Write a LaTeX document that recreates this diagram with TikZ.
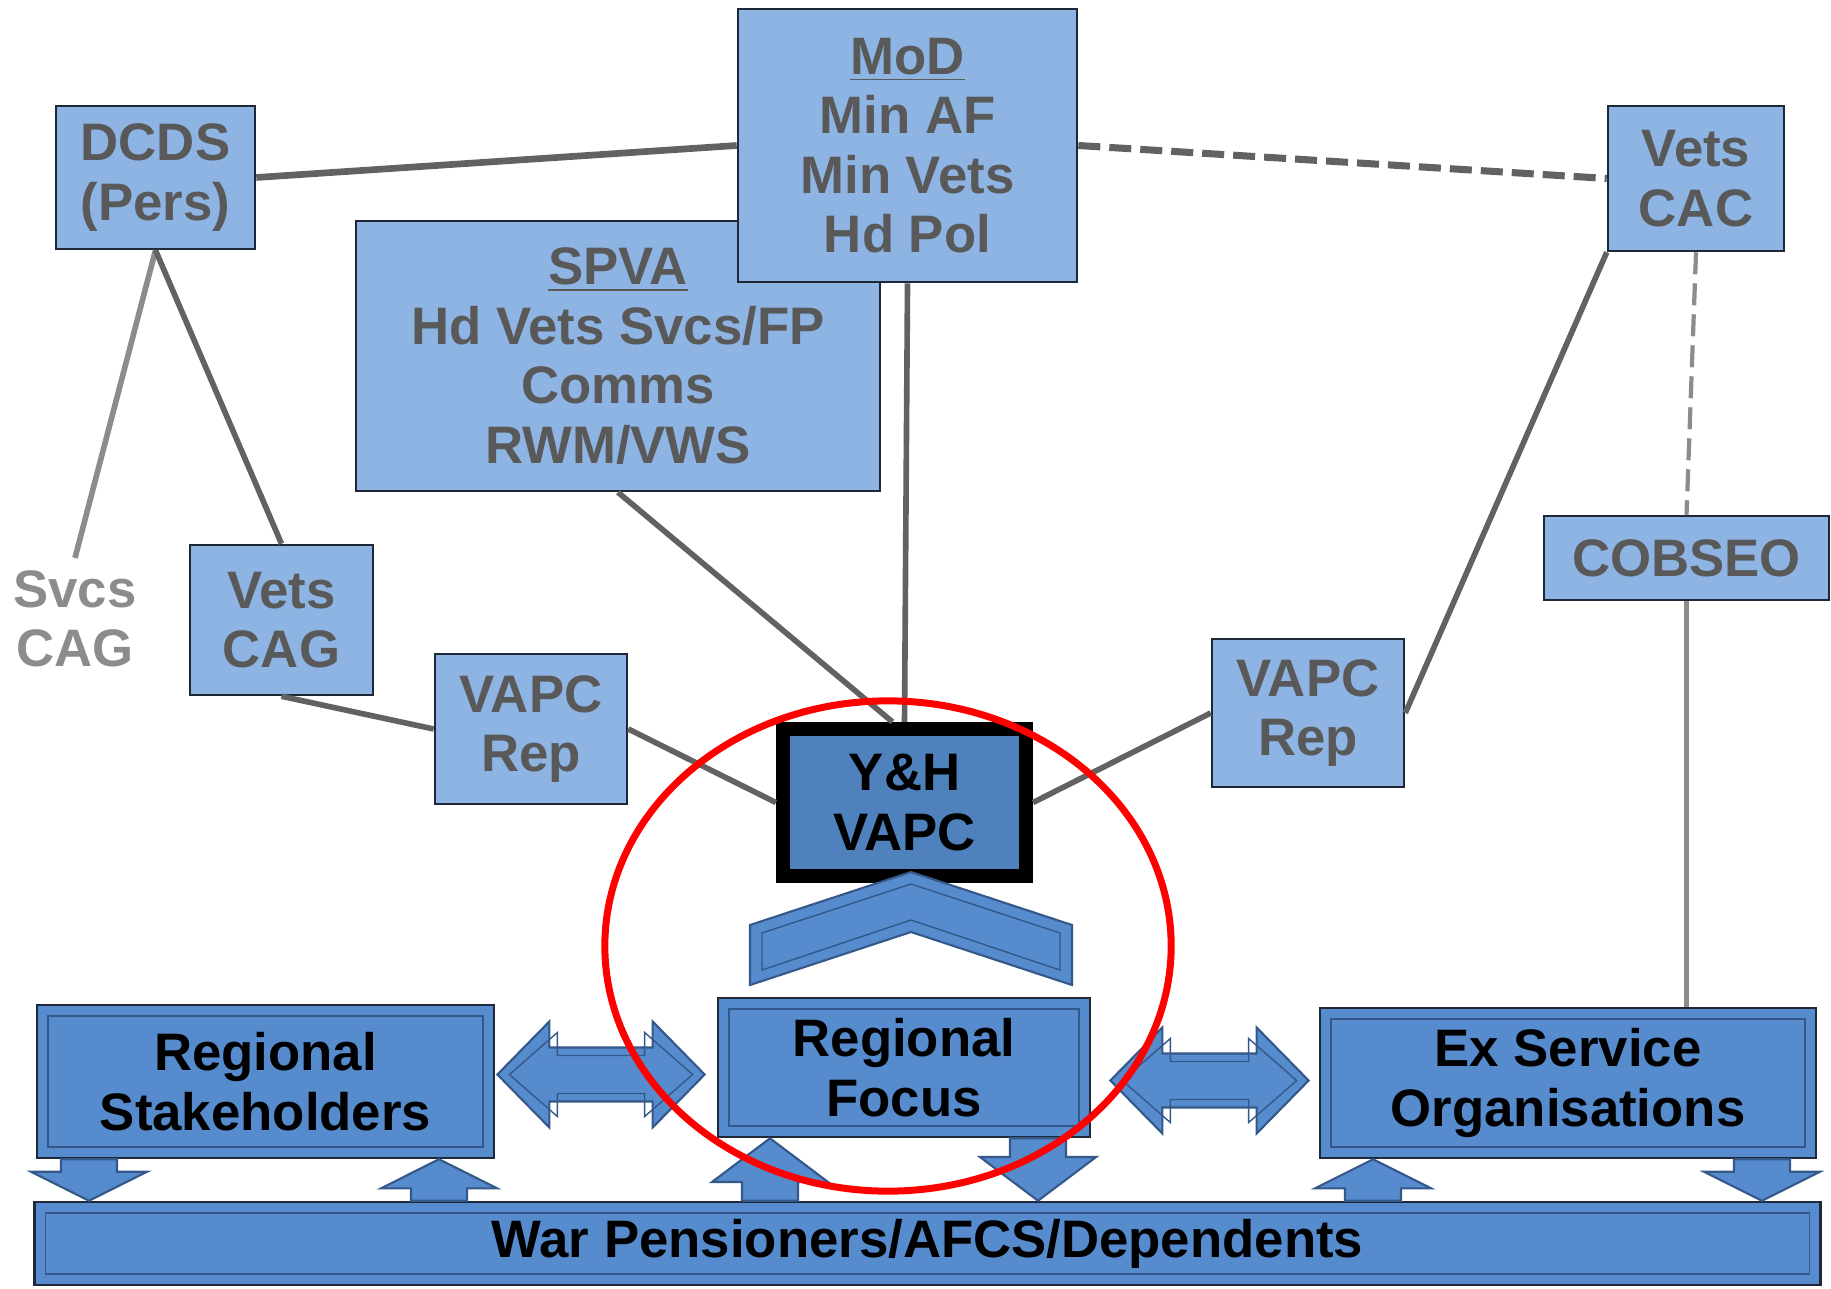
\documentclass[tikz,border=0pt]{standalone}
\usepackage{fontspec}
\setmainfont{Liberation Sans}
\usetikzlibrary{positioning, calc}

\definecolor{boxblue}{RGB}{142,180,227}
\definecolor{midblue}{RGB}{86,140,205}
\definecolor{vapcblue}{RGB}{79,129,189}
\definecolor{edgeblue}{RGB}{52,88,138}
\definecolor{textgray}{RGB}{89,89,89}
\definecolor{linegray}{RGB}{98,98,98}
\definecolor{palegray}{RGB}{140,140,140}

\tikzset{
    lightbox/.style={draw={rgb,255:red,30;green,40;blue,55}, fill=boxblue, line width=0.7pt,
        text=textgray, align=center, inner sep=0pt},
    bluebox/.style={draw={rgb,255:red,30;green,40;blue,55}, fill=midblue, line width=0.7pt,
        text=black, align=center, inner sep=0pt,
        path picture={\draw[edgeblue, line width=0.5pt]
            ([shift={(0.11cm,-0.11cm)}]path picture bounding box.north west) rectangle
            ([shift={(-0.11cm,0.11cm)}]path picture bounding box.south east);}},
    link/.style={draw=linegray, line width=1.6pt},
    dashlink/.style={link, line width=2pt, dash pattern=on 0.22cm off 0.09cm},
    blockarrow/.style={fill=midblue, draw=edgeblue, line width=0.6pt, line join=miter},
    bevel/.style={draw=edgeblue, line width=0.4pt},
}

% block arrows between the lower boxes
\newcommand\vblock[3]{% x, tail, tip
    \draw[blockarrow] let \p3=(#1,0), \p1=(#2), \p2=(#3), \n1={0.7*(\y1-\y2)} in
        ({\x3-0.28cm},\y1) -- ({\x3-0.28cm},{\y2+\n1*1pt}) -- ({\x3-0.58cm},{\y2+\n1*1pt})
        -- (\x3,\y2) -- ({\x3+0.58cm},{\y2+\n1*1pt}) -- ({\x3+0.28cm},{\y2+\n1*1pt})
        -- ({\x3+0.28cm},\y1) -- cycle;}
\newcommand\hblock[2]{% left tip, right tip
    \draw[blockarrow] let \p1=(#1), \p2=(#2) in
        (\x1,\y1) -- ({\x1+0.52cm},{\y1+0.53cm}) -- ({\x1+0.52cm},{\y1+0.27cm})
        -- ({\x2-0.52cm},{\y1+0.27cm}) -- ({\x2-0.52cm},{\y1+0.53cm}) -- (\x2,\y1)
        -- ({\x2-0.52cm},{\y1-0.53cm}) -- ({\x2-0.52cm},{\y1-0.27cm})
        -- ({\x1+0.52cm},{\y1-0.27cm}) -- ({\x1+0.52cm},{\y1-0.53cm}) -- cycle;
    \draw[bevel] let \p1=(#1), \p2=(#2) in
        ({\x1+0.12cm},\y1) -- ({\x1+0.6cm},{\y1+0.42cm}) -- ({\x1+0.6cm},{\y1+0.19cm})
        -- ({\x2-0.6cm},{\y1+0.19cm}) -- ({\x2-0.6cm},{\y1+0.42cm}) -- ({\x2-0.12cm},\y1)
        -- ({\x2-0.6cm},{\y1-0.42cm}) -- ({\x2-0.6cm},{\y1-0.19cm})
        -- ({\x1+0.6cm},{\y1-0.19cm}) -- ({\x1+0.6cm},{\y1-0.42cm}) -- cycle;}

\begin{document}
\begin{tikzpicture}[x=0.01cm, y=-0.01cm,
    every node/.style={font=\fontsize{15}{16.9}\selectfont\bfseries}]
    \useasboundingbox (0,0) rectangle (1831,1288);

    % top row
    \node (dcds)   [lightbox, minimum width=1.99cm, minimum height=1.43cm] at (155.5,177.5) {DCDS\\(Pers)};
    \node (spva)   [lightbox, minimum width=5.24cm, minimum height=2.70cm] at (618,356)    {\underline{SPVA}\\Hd Vets Svcs/FP\\Comms\\RWM/VWS};
    \node (mod)    [lightbox, minimum width=3.39cm, minimum height=2.73cm] at (907.5,145.5) {\underline{MoD}\\Min AF\\Min Vets\\Hd Pol};
    \node (cac)    [lightbox, minimum width=1.76cm, minimum height=1.45cm] at (1696,178.5) {Vets\\CAC};
    \node (cobseo) [lightbox, minimum width=2.85cm, minimum height=0.84cm] at (1686.5,558) {COBSEO};

    % middle row
    \node (svcs)   [text=palegray, align=center, inner sep=0.12cm] at (75,619) {Svcs\\CAG};
    \node (cag)    [lightbox, minimum width=1.83cm, minimum height=1.50cm] at (281.5,620)  {Vets\\CAG};
    \node (replt)  [lightbox, minimum width=1.92cm, minimum height=1.50cm] at (531,729)    {VAPC\\Rep};
    \node (reprt)  [lightbox, minimum width=1.92cm, minimum height=1.48cm] at (1308,713)   {VAPC\\Rep};
    \node (yh)     [draw=black, fill=vapcblue, line width=0.14cm, align=center, inner sep=0pt,
                    minimum width=2.43cm, minimum height=1.47cm] at (904.5,802.5) {Y\&H\\VAPC};

    % bottom row
    \node (rs)     [bluebox, minimum width=4.57cm, minimum height=1.53cm] at (265.5,1081.5) {Regional\\Stakeholders};
    \node (rf)     [bluebox, minimum width=3.72cm, minimum height=1.39cm] at (904,1067.5)   {Regional\\Focus};
    \node (exso)   [bluebox, minimum width=4.96cm, minimum height=1.50cm] at (1568,1083)    {Ex Service\\Organisations};
    \node (bar)    [bluebox, minimum width=17.85cm, minimum height=0.83cm] at (927.5,1243.5) {War Pensioners/AFCS/Dependents};

    % links
    \draw[link, line width=1.9pt]  (dcds.east)  -- (mod.west);
    \draw[dashlink]                (mod.east)   -- (cac.west);
    \draw[dashlink, line width=1.2pt, draw=palegray] (cac.south) -- (cobseo.north);
    \draw[link, line width=1.2pt, draw=palegray]     (cobseo)    -- (cobseo |- exso.north);
    \draw[link, draw=palegray]     (dcds.south) -- (svcs.north);
    \draw[link]                    (dcds.south) -- (cag.north);
    \draw[link]                    (cag.south)  -- (replt.west);
    \draw[link]                    (replt.east) -- (yh.west);
    \draw[link]                    (spva.south) -- ([xshift=-0.12cm]yh.north);
    \draw[link]                    (mod.south)  -- (yh.north);
    \draw[link]                    (reprt.west) -- (yh.east);
    \draw[link]                    (cac.south west) -- (reprt.east);

    % chevron from regional focus up to the VAPC
    \draw[blockarrow] (750,925) -- (911,872) -- (1072,925) -- (1072,985) -- (911,932) -- (750,985) -- cycle;
    \draw[bevel] (762,933) -- (911,884) -- (1060,933) -- (1060,970) -- (911,920) -- (762,970) -- cycle;

    \hblock{$(rs.east)+(2,-7)$}{$(rf.west)+(-12,0)$}
    \hblock{$(rf.east)+(19,13)$}{$(exso.west)+(-10,0)$}

    \vblock{89}{rs.south}{bar.north}
    \vblock{439}{bar.north}{rs.south}
    \vblock{770}{bar.north}{rf.south}
    \vblock{1038}{rf.south}{bar.north}
    \vblock{1373}{bar.north}{exso.south}
    \vblock{1762}{exso.south}{bar.north}

    \draw[red, line width=0.07cm] (888,946) ellipse [x radius=2.83cm, y radius=2.45cm];
\end{tikzpicture}
\end{document}
